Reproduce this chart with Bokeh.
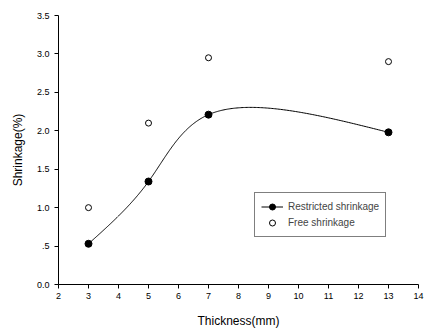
import numpy as np
from bokeh.plotting import figure
from bokeh.models import Range1d, FixedTicker, Legend, LegendItem
from bokeh.embed import file_html
from bokeh.resources import INLINE

thickness = [3, 5, 7, 13]
restricted = [0.53, 1.34, 2.21, 1.98]
free = [1.0, 2.1, 2.95, 2.9]
x_ticks = list(range(2, 15))
y_ticks = [0.0, 0.5, 1.0, 1.5, 2.0, 2.5, 3.0, 3.5]
y_tick_labels = ["0.0", ".5", "1.0", "1.5", "2.0", "2.5", "3.0", "3.5"]


def natural_coeffs(t, v):
    k = len(t)
    h = np.diff(t)
    A = np.zeros((k, k))
    b = np.zeros(k)
    A[0, 0] = 1
    A[-1, -1] = 1
    for i in range(1, k - 1):
        A[i, i - 1] = h[i - 1]
        A[i, i] = 2 * (h[i - 1] + h[i])
        A[i, i + 1] = h[i]
        b[i] = 3 * ((v[i + 1] - v[i]) / h[i] - (v[i] - v[i - 1]) / h[i - 1])
    return np.linalg.solve(A, b)


def eval_spline(t, v, c, tt):
    h = np.diff(t)
    out = np.empty_like(tt)
    for j, tv in enumerate(tt):
        i = min(np.searchsorted(t, tv, side="right") - 1, len(t) - 2)
        d = tv - t[i]
        bi = (v[i + 1] - v[i]) / h[i] - h[i] * (c[i + 1] + 2 * c[i]) / 3
        di = (c[i + 1] - c[i]) / (3 * h[i])
        out[j] = v[i] + bi * d + c[i] * d ** 2 + di * d ** 3
    return out


def parametric_spline(xs, ys, sx=30.0, sy=77.0, n=300):
    xs = np.asarray(xs, float)
    ys = np.asarray(ys, float)
    seg = np.hypot(np.diff(xs) * sx, np.diff(ys) * sy)
    t = np.concatenate([[0], np.cumsum(np.sqrt(seg))])
    tt = np.linspace(0, t[-1], n)
    cx = natural_coeffs(t, xs)
    cy = natural_coeffs(t, ys)
    return eval_spline(t, xs, cx, tt), eval_spline(t, ys, cy, tt)


p = figure(width=424, height=331, output_backend="svg", toolbar_location=None,
           x_range=Range1d(2, 14), y_range=Range1d(0, 3.5),
           min_border_left=58, min_border_right=6, min_border_top=15, min_border_bottom=47)
p.outline_line_color = None
p.xgrid.visible = False
p.ygrid.visible = False
p.background_fill_color = "white"

font = "Liberation Sans"
for ax in (p.xaxis[0], p.yaxis[0]):
    ax.axis_line_color = "black"
    ax.major_tick_line_color = "black"
    ax.minor_tick_line_color = None
    ax.major_label_text_font = font
    ax.major_label_text_font_size = "9px"
    ax.major_label_text_color = "black"
    ax.axis_label_text_font = font
    ax.axis_label_text_font_size = "12px"
    ax.axis_label_text_font_style = "normal"
    ax.axis_label_text_color = "black"
    ax.major_tick_out = 4
    ax.major_tick_in = 0

p.xaxis.ticker = FixedTicker(ticks=x_ticks)
p.yaxis.ticker = FixedTicker(ticks=y_ticks)
p.yaxis.major_label_overrides = {t: l for t, l in zip(y_ticks, y_tick_labels)}
p.xaxis.axis_label = "Thickness(mm)"
p.yaxis.axis_label = "Shrinkage(%)"
p.xaxis.major_label_standoff = 4
p.xaxis.axis_label_standoff = 12
p.yaxis.axis_label_standoff = 9

cxs, cys = parametric_spline(thickness, restricted)
l1 = p.line(cxs, cys, line_color="black", line_width=1)
s1 = p.scatter(thickness, restricted, size=7, marker="circle", fill_color="black", line_color="black")
s2 = p.scatter(thickness, free, size=6, marker="circle", fill_color="white", line_color="black", line_width=1)

legend = Legend(items=[LegendItem(label="Restricted shrinkage", renderers=[l1, s1]),
                       LegendItem(label="Free shrinkage", renderers=[s2])],
                location=(196, 47), orientation="vertical")
legend.border_line_color = "black"
legend.border_line_width = 1
legend.label_text_font = font
legend.label_text_font_size = "10px"
legend.glyph_height = 15
legend.glyph_width = 22
legend.label_height = 15
legend.spacing = 1
legend.padding = 6
legend.margin = 0
legend.background_fill_alpha = 1
p.add_layout(legend, "center")

open("out.html", "w").write(file_html(p, INLINE))
